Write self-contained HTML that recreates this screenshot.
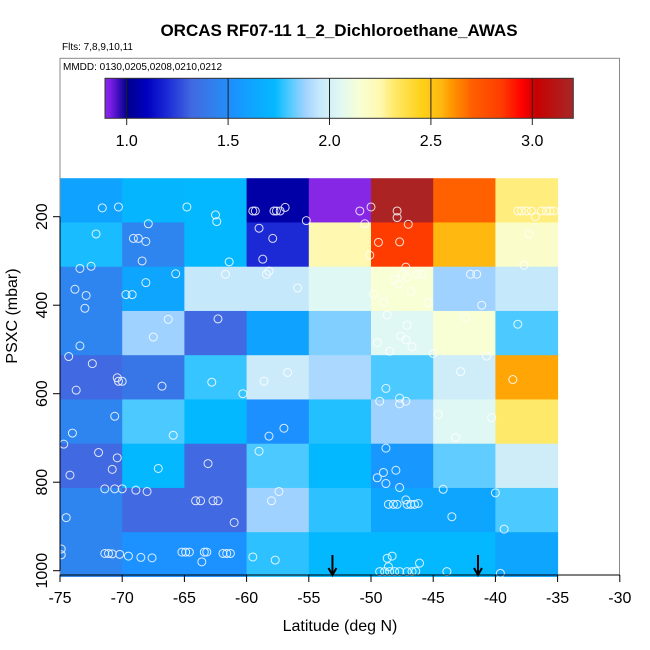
<!DOCTYPE html>
<html><head><meta charset="utf-8"><style>
body{margin:0;background:#fff}
svg{display:block;font-family:"Liberation Sans",sans-serif}
</style></head><body>
<svg id="c" width="650" height="650" xmlns="http://www.w3.org/2000/svg"></svg>
<script>
const latBins=[-75,-70,-65,-60,-55,-50,-45,-40];
const presBins=[113,213,313,413,513,613,713,813,913];
const cellValues=[
[1.60,1.72,1.73,1.05,0.90,3.18,2.70,2.30],
[1.75,1.45,1.73,1.20,2.25,2.85,2.55,2.18],
[1.45,1.62,1.95,1.95,2.05,2.15,1.88,1.95],
[1.45,1.88,1.32,1.60,1.85,2.05,2.15,1.80],
[1.32,1.38,1.78,1.97,1.90,1.80,1.98,2.58],
[1.45,1.80,1.73,1.52,1.76,1.88,2.05,2.32],
[1.32,1.73,1.32,1.80,1.73,1.55,1.82,1.98],
[1.45,1.32,1.32,1.88,1.77,1.62,1.62,1.80],
[1.45,1.53,1.53,1.77,1.73,1.73,1.73,1.62]];
const ptLat=[-71.6,-70.3,-64.8,-62.5,-62.4,-67.9,-59.5,-59.3,-57.8,-57.6,-57.3,-56.9,-55.2,-50.9,-50.0,-50.5,-47.9,-47.9,-47.0,-38.2,-37.9,-37.5,-37.1,-36.3,-35.9,-35.6,-35.3,-36.8,
-72.1,-69.1,-68.7,-68.1,-59.0,-57.9,-58.7,-61.4,-68.4,-49.4,-47.7,-50.1,-37.3,-37.7,
-73.4,-72.5,-73.8,-72.9,-73.0,-65.7,-68.1,-69.7,-69.2,-61.7,-58.4,-58.2,-55.9,-47.2,-47.5,-47.1,-48.1,-47.8,-46.3,-45.9,-46.8,-49.8,-49.0,-45.4,-42.0,-41.5,-41.1,
-73.4,-66.3,-67.5,-62.3,-48.7,-47.1,-47.6,-47.2,-46.7,-49.5,-48.5,-45.0,-42.4,-38.2,
-74.3,-72.4,-73.7,-70.4,-70.3,-70.0,-66.8,-62.8,-60.3,-58.6,-56.7,-48.8,-42.8,-40.7,-38.6,
-70.6,-74.0,-74.7,-65.9,-57.0,-58.2,-49.3,-47.7,-47.7,-47.2,-44.6,-40.3,-43.2,
-71.9,-70.4,-70.8,-74.2,-67.1,-63.1,-59.0,-48.8,-49.0,-48.0,-49.5,-48.8,-47.7,-71.4,-70.6,-70.0,-68.9,-68.0,
-74.5,-64.1,-63.7,-62.7,-62.3,-61.0,-57.4,-58.0,-48.6,-48.2,-47.9,-47.1,-46.8,-46.5,-46.2,-47.2,-44.2,-43.5,-40.0,-39.3,
-74.9,-74.9,-71.4,-71.1,-70.8,-70.2,-69.5,-68.5,-67.6,-65.2,-64.9,-64.6,-63.4,-63.2,-63.6,-61.9,-61.6,-61.3,-59.5,-57.7,-48.7,-48.3,-48.6,-46.1,-49.3,-48.9,-48.5,-48.1,-47.7,-47.1,-46.7,-46.4,-43.9,-39.6];
const ptPres=[180,178,178,196,211,216,187,187,187,187,187,179,209,187,178,216,187,202,217,187,187,187,187,187,187,187,187,200,
239,249,249,256,226,249,296,302,300,258,257,287,239,310,
317,312,364,378,407,329,349,376,376,330,330,323,361,314,330,336,342,352,330,330,369,375,394,394,330,330,400,
492,432,472,431,422,445,470,478,494,485,504,509,428,443,
516,532,592,564,572,572,583,574,600,572,552,588,550,515,568,
651,689,714,694,678,696,617,610,623,617,647,654,699,
733,745,771,784,769,758,730,723,778,773,790,803,812,815,815,815,818,821,
880,842,842,842,842,891,821,842,850,850,850,850,850,850,848,840,816,878,824,906,
964,951,961,961,962,963,967,970,971,958,958,958,958,958,980,961,961,961,969,976,972,967,991,983,1002,1002,1002,1002,1002,1002,1002,1001,1002,1006];
const arrowLats=[-53.1,-41.4];
const xTicks=[-75,-70,-65,-60,-55,-50,-45,-40,-35,-30];
const yTicks=[200,400,600,800,1000];
const cbTicks=[1.0,1.5,2.0,2.5,3.0];
const cbStops=[[0.89,'#8a2be2'],[0.92,'#7a1ee8'],[1.0,'#00008b'],[1.1,'#0000c0'],[1.2,'#1c2ad6'],[1.32,'#4169e1'],[1.45,'#2e85f0'],[1.52,'#1c90ff'],[1.6,'#10a2ff'],[1.73,'#04b8ff'],[1.8,'#4ccaff'],[1.88,'#a0d2ff'],[1.95,'#c6e8fb'],[2.05,'#e0f8f4'],[2.15,'#f8ffd4'],[2.25,'#fff8b0'],[2.32,'#ffe96a'],[2.45,'#ffd21a'],[2.55,'#ffb810'],[2.6,'#ff9900'],[2.7,'#ff6000'],[2.85,'#ff3c00'],[2.95,'#ff0000'],[3.02,'#c80000'],[3.21,'#a52a2a']];

const X=lat=>60+(lat+75)*12.44;
const Y=p=>216.7+(p-200)*0.4425;
const CB=v=>126.7+(v-1.0)*202.8;
function hex(c){return [1,3,5].map(i=>parseInt(c.substr(i,2),16));}
function color(v){
 if(v<=cbStops[0][0])return cbStops[0][1];
 for(let i=1;i<cbStops.length;i++){
  if(v<=cbStops[i][0]){const a=cbStops[i-1],b=cbStops[i];const t=(v-a[0])/(b[0]-a[0]);
   const A=hex(a[1]),B=hex(b[1]);return 'rgb('+A.map((x,k)=>Math.round(x+(B[k]-x)*t)).join(',')+')';}
 }
 return cbStops[cbStops.length-1][1];
}
const svg=document.getElementById('c');const NS='http://www.w3.org/2000/svg';
function el(t,a,p){const e=document.createElementNS(NS,t);for(const k in a)e.setAttribute(k,a[k]);(p||svg).appendChild(e);return e;}
function txt(s,a,p){const e=el('text',a,p);e.textContent=s;return e;}

let t=txt('ORCAS RF07-11 1_2_Dichloroethane_AWAS',{x:339,y:36,'text-anchor':'middle','font-size':17,'font-weight':'bold'});


t=txt('Flts: 7,8,9,10,11',{x:62,y:50,'font-size':10});



const cells=el('g',{});


cellValues.forEach((row,r)=>row.forEach((v,c)=>{
 const r0=el('rect',{x:X(latBins[c]),y:Y(presBins[r]),width:X(latBins[c]+5)-X(latBins[c])+0.5,height:Y(presBins[r]+100)-Y(presBins[r])+0.5,fill:color(v)},cells);
 
 
}));
const pts=el('g',{fill:'none',stroke:'#fff','stroke-width':1,opacity:0.85});


ptLat.forEach((la,i)=>{const c=el('circle',{cx:X(la),cy:Y(ptPres[i]),r:4},pts);
 
 });
arrowLats.forEach(la=>{const g=el('g',{stroke:'#000','stroke-width':2,fill:'none'});
 
 
 const x=X(la);el('line',{x1:x,y1:555,x2:x,y2:575},g);el('polyline',{points:`${x-4},568 ${x},575 ${x+4},568`},g);});

const box=el('rect',{x:60,y:58.3,width:559.5,height:516.7,fill:'none',stroke:'#888','stroke-width':1});


t=txt('MMDD: 0130,0205,0208,0210,0212',{x:63,y:70,'font-size':10});



const cb=el('g',{});


for(let x=105;x<573;x++){const v=1.0+(x+0.5-126.7)/202.8;el('rect',{x:x,y:78.3,width:1.2,height:40,fill:color(v)},cb);}
el('rect',{x:105,y:78.3,width:468.3,height:40,fill:'none',stroke:'#333'},cb);
cbTicks.forEach(v=>{el('line',{x1:CB(v),y1:78.3,x2:CB(v),y2:125,stroke:'#222'},cb);
 const l=txt(v.toFixed(1),{x:CB(v),y:146,'text-anchor':'middle','font-size':16},cb);
 
 });

const xa=el('g',{});


el('line',{x1:60,y1:575,x2:X(-30),y2:575,stroke:'#000'},xa);
xTicks.forEach(v=>{el('line',{x1:X(v),y1:575,x2:X(v),y2:582,stroke:'#000'},xa);
 const l=txt(String(v),{x:X(v),y:603,'text-anchor':'middle','font-size':16},xa);
 
 });
t=txt('Latitude (deg N)',{x:340,y:631,'text-anchor':'middle','font-size':16});



const ya=el('g',{});


el('line',{x1:60,y1:Y(200),x2:60,y2:Y(1000),stroke:'#000'},ya);
yTicks.forEach(v=>{el('line',{x1:53,y1:Y(v),x2:60,y2:Y(v),stroke:'#000'},ya);
 const l=txt(String(v),{x:47,y:Y(v),'text-anchor':'middle','font-size':16,transform:`rotate(-90 47 ${Y(v)})`},ya);
 
 });
t=txt('PSXC (mbar)',{x:17,y:316,'text-anchor':'middle','font-size':16,transform:'rotate(-90 17 316)'});


</script>
</body></html>
